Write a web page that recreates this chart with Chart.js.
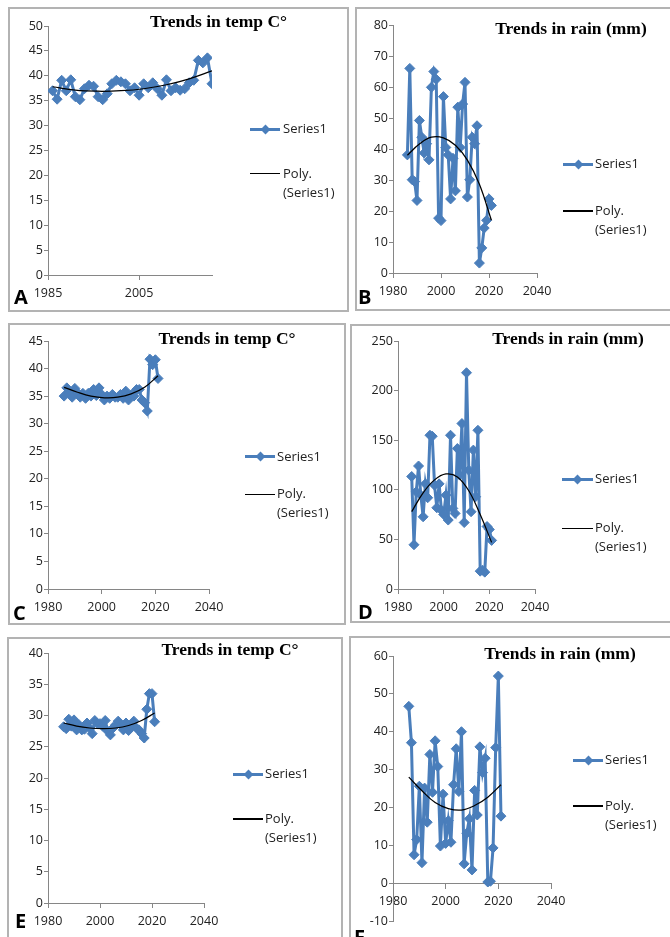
<!DOCTYPE html>
<html>
<head>
<meta charset="utf-8">
<script src="https://cdn.jsdelivr.net/npm/chart.js@4.4.1/dist/chart.umd.min.js"></script>
<style>
  html, body { margin: 0; padding: 0; background: #fff; }
  body { width: 670px; height: 937px; position: relative; overflow: hidden; font-family: 'Open Sans', sans-serif; }
  .panel { position: absolute; border: 2px solid #b3b3b3; box-sizing: border-box; }
  canvas { position: absolute; }
  .title { position: absolute; font: bold 17.5px 'Liberation Serif', 'Times New Roman', serif; line-height: 17.5px; white-space: nowrap; transform: translateX(-50%); color: #000; }
  .leg { position: absolute; font-size: 13px; line-height: 13px; white-space: nowrap; color: #222; }
  .sym { position: absolute; height: 3px; background: #4A7EBB; }
  .dia { position: absolute; width: 7px; height: 7px; background: #4A7EBB; transform: rotate(45deg); }
  .trend { position: absolute; height: 1.25px; background: #000; }
  .letter { position: absolute; font: bold 20px 'Open Sans', sans-serif; line-height: 20px; color: #000; }
</style>
</head>
<body>
<script>
// data
const years = [1986, 1987, 1988, 1989, 1990, 1991, 1992, 1993, 1994, 1995, 1996, 1997,
  1998, 1999, 2000, 2001, 2002, 2003, 2004, 2005, 2006, 2007, 2008, 2009,
  2010, 2011, 2012, 2013, 2014, 2015, 2016, 2017, 2018, 2019, 2020, 2021];

const tempA = [37.0, 35.3, 39.1, 37.0, 39.2, 35.8, 35.2, 37.4, 38.1, 37.9, 35.8, 35.2,
  36.4, 38.4, 39.1, 38.8, 38.4, 37.0, 37.6, 36.1, 38.4, 37.6, 38.6, 37.4,
  36.1, 39.2, 37.0, 37.6, 37.1, 37.4, 38.6, 39.1, 43.1, 42.6, 43.6, 38.4];
const rainB = [38.1, 66.0, 30.1, 29.5, 23.4, 49.2, 43.8, 38.7, 41.7, 36.5, 59.9, 65.0,
  62.5, 17.7, 16.9, 56.9, 40.5, 38.1, 23.9, 37.0, 26.5, 53.5, 40.5, 54.5,
  61.5, 24.5, 30.1, 43.8, 41.7, 47.5, 3.2, 8.1, 14.5, 17.0, 23.9, 21.8];
const tempC = [35.0, 36.5, 35.6, 34.8, 36.4, 35.6, 34.8, 35.5, 34.6, 35.5, 35.0, 36.2,
  35.1, 36.5, 35.3, 34.3, 35.0, 34.6, 35.3, 34.8, 34.8, 35.3, 34.6, 35.9,
  34.3, 35.2, 35.0, 36.2, 36.2, 34.3, 33.8, 32.3, 41.7, 40.7, 41.6, 38.2];
const rainD = [113.4, 44.6, 98, 124, 94.6, 72.8, 106, 92, 155, 154, 104.7, 81.9,
  106, 79.5, 75.2, 94.6, 69.5, 155, 81.2, 76.2, 141.6, 114.8, 166.8, 67,
  218, 119.8, 77.9, 140, 93, 160, 18, 19, 17, 63, 60, 49];
const tempE = [28.2, 27.9, 29.4, 28.3, 29.3, 27.7, 28.5, 27.7, 27.8, 28.8, 28.0, 27.1,
  29.2, 28.7, 28.7, 28.3, 29.2, 27.5, 26.9, 28.0, 28.5, 29.1, 28.5, 27.7,
  28.8, 27.6, 28.2, 29.1, 28.0, 27.7, 27.1, 26.4, 31.0, 33.5, 33.5, 29.0];
const rainF = [46.7, 37.1, 7.5, 11.5, 25.6, 5.4, 25.1, 16.1, 34.0, 24.0, 37.6, 30.8,
  9.8, 23.5, 10.5, 16.5, 10.8, 26.0, 35.5, 24.2, 40.0, 5.1, 13.2, 17.0,
  3.5, 24.5, 18.0, 36.0, 29.2, 33.0, 0.3, 0.5, 9.3, 35.8, 54.7, 17.7];

// trend curves (Poly.)
const trendYears = [1986, 1991, 1996, 2001, 2006, 2011, 2016, 2021];
const trendA = [37.8, 37.1, 36.9, 37.0, 37.4, 38.2, 39.4, 41.0];
const trendB = [38.0, 41.6, 43.8, 43.6, 41.2, 36.4, 28.6, 17.0];
const trendC = [36.6, 35.7, 35.0, 34.7, 34.8, 35.4, 36.6, 38.7];
const trendD = [78, 97, 110, 116, 113, 99, 75, 47];
const trendE = [28.8, 28.3, 28.0, 27.9, 28.0, 28.4, 29.2, 30.4];
const trendF = [28.0, 24.4, 21.3, 19.7, 19.3, 20.5, 22.7, 26.0];

const xTicksA = [1985, 2005];
const xTicks = [1980, 2000, 2020, 2040];

const titleTemp = 'Trends in temp C°';
const titleRain = 'Trends in rain (mm)';
const seriesName = 'Series1';
const trendName = ['Poly.', '(Series1)'];

const BLUE = '#4A7EBB';
const AXIS = '#868686';

Chart.defaults.font.family = "'Open Sans', sans-serif";
Chart.defaults.font.size = 12.5;
Chart.defaults.color = '#222';

// box: l,t,w,h  area: axis left, top, right, bottom (px)
const panels = [
  { letter: 'A', title: titleTemp, values: tempA, trend: trendA, y: [0, 50, 5], x: [1985, 2021], ticks: xTicksA,
    box: [8, 7, 341, 305], area: [48, 26, 212, 275], titlePos: [218.5, 27.7], letterPos: [14, 305],
    legend: [250, 280, 129, 283, 173.5] },
  { letter: 'B', title: titleRain, values: rainB, trend: trendB, y: [0, 80, 10], x: [1980, 2040], ticks: xTicks,
    box: [355, 7, 320, 304], area: [393, 25, 537, 273], titlePos: [571, 34.3], letterPos: [358, 305],
    legend: [563, 593, 164.3, 595, 211] },
  { letter: 'C', title: titleTemp, values: tempC, trend: trendC, y: [0, 45, 5], x: [1980, 2040], ticks: xTicks,
    box: [8, 323, 338, 302], area: [48, 341, 209, 589], titlePos: [227, 344.3], letterPos: [13, 621],
    legend: [245, 275, 456.7, 277, 494.3] },
  { letter: 'D', title: titleRain, values: rainD, trend: trendD, y: [0, 250, 50], x: [1980, 2040], ticks: xTicks,
    box: [350, 324, 325, 299], area: [398, 341, 535, 589], titlePos: [568, 344.3], letterPos: [358, 620],
    legend: [562, 593, 479.3, 595, 528.3] },
  { letter: 'E', title: titleTemp, values: tempE, trend: trendE, y: [0, 40, 5], x: [1980, 2040], ticks: xTicks,
    box: [7, 637, 336, 310], area: [48, 653, 204, 903], titlePos: [230, 656], letterPos: [15, 929],
    legend: [233, 263, 774, 265, 819] },
  { letter: 'F', title: titleRain, values: rainF, trend: trendF, y: [-10, 60, 10], x: [1980, 2040], ticks: xTicks,
    box: [349, 636, 326, 310], area: [393, 656, 551, 921], titlePos: [560, 659.3], letterPos: [354, 945],
    legend: [573, 603, 760, 605, 806], xAtZero: true }
];

function addDiv(cls, css, text) {
  const d = document.createElement('div');
  d.className = cls;
  Object.assign(d.style, css);
  if (text !== undefined) d.textContent = text;
  document.body.appendChild(d);
  return d;
}

function makePanel(p) {
  const [l, t, w, h] = p.box;
  const [xL, yT, xR, yB] = p.area;

  addDiv('panel', { left: l + 'px', top: t + 'px', width: w + 'px', height: h + 'px' });

  const cv = document.createElement('canvas');
  cv.width = w;
  cv.height = h;
  cv.style.left = l + 'px';
  cv.style.top = t + 'px';
  document.body.appendChild(cv);

  const tickGrid = len => ({ display: true, drawOnChartArea: false, drawTicks: true, tickLength: len, color: AXIS });

  new Chart(cv, {
    type: 'line',
    data: {
      datasets: [
        {
          label: trendName.join(' '),
          data: trendYears.map((x, i) => ({ x, y: p.trend[i] })),
          borderColor: '#000',
          borderWidth: 1.25,
          pointRadius: 0,
          tension: 0.4,
          fill: false
        },
        {
          label: seriesName,
          data: years.map((x, i) => ({ x, y: p.values[i] })),
          borderColor: BLUE,
          borderWidth: 3,
          tension: 0,
          pointStyle: 'rectRot',
          pointRadius: 5,
          pointBackgroundColor: BLUE,
          pointBorderColor: BLUE,
          pointBorderWidth: 1,
          fill: false
        }
      ]
    },
    options: {
      responsive: false,
      animation: false,
      events: [],
      layout: { padding: { left: 0, top: yT - t, right: l + w - xR, bottom: p.xAtZero ? t + h - yB : 0 } },
      plugins: { legend: { display: false }, tooltip: { enabled: false }, title: { display: false } },
      scales: {
        x: {
          type: 'linear',
          min: p.x[0],
          max: p.x[1],
          position: p.xAtZero ? { y: 0 } : 'bottom',
          afterBuildTicks: s => { s.ticks = p.ticks.map(v => ({ value: v })); },
          afterFit: s => { if (!p.xAtZero) s.height = t + h - yB; },
          grid: tickGrid(5),
          border: { display: true, color: AXIS, width: 1 },
          ticks: { padding: 6, maxRotation: 0, autoSkip: false, callback: v => String(v) }
        },
        y: {
          min: p.y[0],
          max: p.y[1],
          afterFit: s => { s.width = xL - l; },
          grid: tickGrid(4),
          border: { display: true, color: AXIS, width: 1 },
          ticks: { stepSize: p.y[2], padding: 1, callback: v => String(v) }
        }
      }
    }
  });

  // title
  addDiv('title', { left: p.titlePos[0] + 'px', top: (p.titlePos[1] - 14.65) + 'px' }, p.title);

  // legend
  const [lx1, lx2, ly1, tx, ly2] = p.legend;
  addDiv('sym', { left: lx1 + 'px', top: (ly1 - 1.5) + 'px', width: (lx2 - lx1) + 'px' });
  addDiv('dia', { left: ((lx1 + lx2) / 2 - 3.5) + 'px', top: (ly1 - 3.5) + 'px' });
  addDiv('leg', { left: tx + 'px', top: (ly1 - 6.9) + 'px' }, seriesName);
  addDiv('trend', { left: lx1 + 'px', top: (ly2 - 0.6) + 'px', width: (lx2 - lx1) + 'px' });
  addDiv('leg', { left: tx + 'px', top: (ly2 - 6.9) + 'px' }, trendName[0]);
  addDiv('leg', { left: tx + 'px', top: (ly2 + 19 - 6.9) + 'px' }, trendName[1]);

  // panel letter
  addDiv('letter', { left: p.letterPos[0] + 'px', top: (p.letterPos[1] - 17.8) + 'px' }, p.letter);
}

panels.forEach(makePanel);
</script>
</body>
</html>
